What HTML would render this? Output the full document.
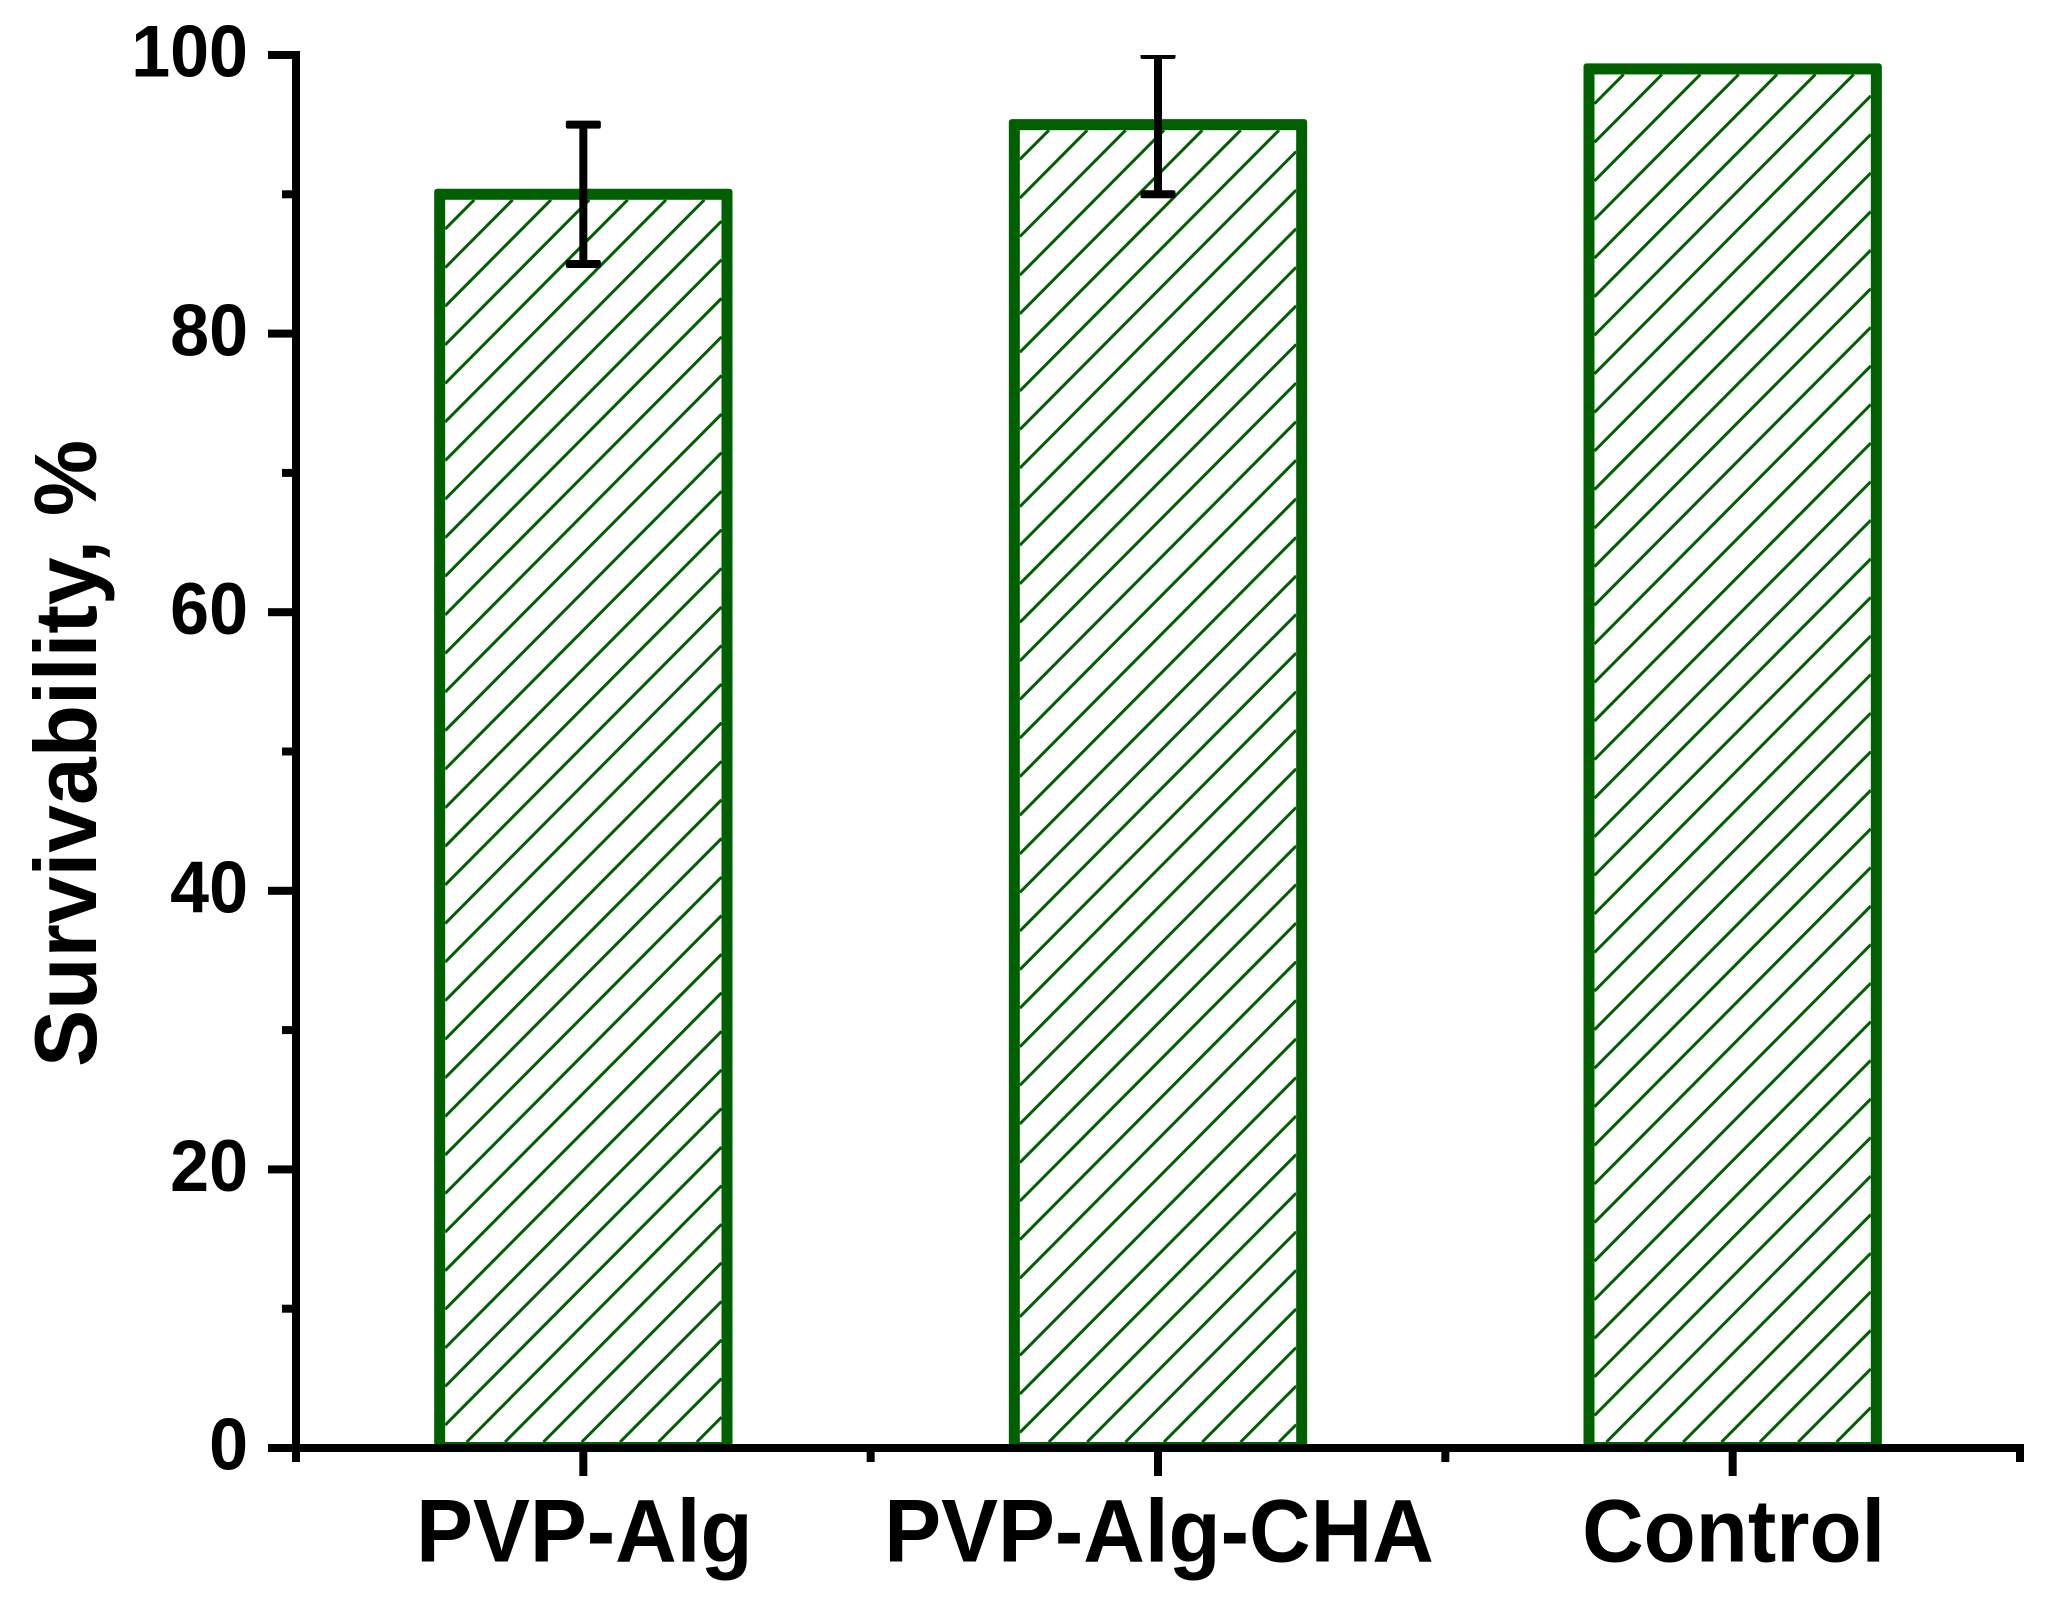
<!DOCTYPE html>
<html lang="en">
<head>
<meta charset="utf-8">
<title>Survivability bar chart</title>
<style>
  html, body { margin: 0; padding: 0; background: #fff; }
  body { width: 2060px; height: 1619px; overflow: hidden; }
  svg { display: block; }
  text { font-family: "Liberation Sans", Arial, sans-serif; font-weight: bold; fill: #000; }
</style>
</head>
<body>
<svg id="chart" xmlns="http://www.w3.org/2000/svg" width="2060" height="1619" viewBox="0 0 2060 1619">
  <defs id="chart-defs"></defs>
  <rect x="0" y="0" width="2060" height="1619" fill="#ffffff"></rect>
  <g id="bars"></g>
  <g id="error-bars"></g>
  <g id="axes"></g>
  <text transform="translate(96 1067) rotate(-90) scale(1 1.03)" font-size="85.7">Survivability, %</text>
</svg>
<script>
const categories = ['PVP-Alg', 'PVP-Alg-CHA', 'Control'];
const survivability = [90, 95, 99];
const errors = [5, 5, 0];
const yMajorTicks = [0, 20, 40, 60, 80, 100];
const yMinorTicks = [10, 30, 50, 70, 90];
const xMinorTicks = [0.5, 1.5, 2.5, 3.5];

const NS = 'http://www.w3.org/2000/svg';
const GREEN = '#005f00';
const plot = { left: 296, right: 2020, top: 55, bottom: 1448 };
const yDomain = [0, 100];
const xDomain = [0.5, 3.5];

function xScale(v) {
  return plot.left + (v - xDomain[0]) / (xDomain[1] - xDomain[0]) * (plot.right - plot.left);
}
function yScale(v) {
  return plot.bottom - (v - yDomain[0]) / (yDomain[1] - yDomain[0]) * (plot.bottom - plot.top);
}
function make(tag, attrs, parent) {
  const el = document.createElementNS(NS, tag);
  for (const k in attrs) el.setAttribute(k, attrs[k]);
  parent.appendChild(el);
  return el;
}

const defs = document.getElementById('chart-defs');
const barsG = document.getElementById('bars');
const errG = document.getElementById('error-bars');
const axesG = document.getElementById('axes');

const BAR_UNITS = 0.5;
const STROKE = 11;
const HATCH_GAP = 38.58;
const HATCH_SLOPE = 1.006;
const HATCH_PHASE = 29.3;

/* clip for marks that reach past the plot top */
const plotClip = make('clipPath', { id: 'plot-clip' }, defs);
make('rect', { x: 0, y: plot.top, width: 2060, height: plot.bottom - plot.top + 10 }, plotClip);

categories.forEach(function (cat, i) {
  const pos = i + 1;
  const cx = xScale(pos);
  const half = (xScale(pos + BAR_UNITS / 2) - xScale(pos - BAR_UNITS / 2)) / 2;
  const top = yScale(survivability[i]);
  const base = yScale(0);

  const outer = make('rect', {
    x: cx - half - STROKE / 2,
    y: top - STROKE / 2,
    width: 2 * half + STROKE,
    height: base - top + STROKE / 2,
    rx: 3,
    fill: GREEN
  }, barsG);
  
  

  const ix = cx - half + STROKE / 2;
  const iy = top + STROKE / 2;
  const iw = 2 * half - STROKE;
  const ih = base - 6 - iy;
  const ib = iy + ih;

  const inner = make('rect', { x: ix, y: iy, width: iw, height: ih, fill: '#ffffff' }, barsG);
  
  

  const clip = make('clipPath', { id: 'bar-clip-' + i }, defs);
  make('rect', { x: ix, y: iy, width: iw, height: ih }, clip);

  const hatch = make('g', { 'clip-path': 'url(#bar-clip-' + i + ')', stroke: GREEN, 'stroke-width': 3 }, barsG);
  
  

  for (let y0 = iy + HATCH_PHASE; y0 < ib + iw * HATCH_SLOPE; y0 += HATCH_GAP) {
    /* trim each hatch line to the bar interior so nothing extends off the frame */
    let x1 = ix, y1 = y0, x2 = ix + iw, y2 = y0 - iw * HATCH_SLOPE;
    if (y1 > ib) { x1 = ix + (y1 - ib) / HATCH_SLOPE; y1 = ib; }
    if (y2 < iy) { x2 = ix + (y0 - iy) / HATCH_SLOPE; y2 = iy; }
    make('line', { x1: x1, y1: y1, x2: x2, y2: y2 }, hatch);
  }

  if (errors[i] > 0) {
    const g = make('g', { 'clip-path': 'url(#plot-clip)', fill: '#000' }, errG);
    
    
    const yHi = yScale(survivability[i] + errors[i]);
    const yLo = yScale(survivability[i] - errors[i]);
    make('rect', { x: cx - 4, y: yHi, width: 8, height: yLo - yHi }, g);
    make('rect', { x: cx - 17.5, y: yHi - 4, width: 35, height: 8, rx: 2 }, g);
    make('rect', { x: cx - 17.5, y: yLo - 4, width: 35, height: 8, rx: 2 }, g);
  }
});

/* y axis */
const yLine = make('rect', { x: plot.left - 4, y: plot.top - 4, width: 8, height: plot.bottom - plot.top + 8, fill: '#000' }, axesG);



yMajorTicks.forEach(function (v) {
  const tick = make('rect', { x: 268, y: yScale(v) - 4, width: plot.left - 268, height: 8, fill: '#000' }, axesG);
  
  
  const label = make('text', { transform: 'translate(248 ' + (yScale(v) + 21.7) + ') scale(1 1.05)', 'font-size': 70, 'text-anchor': 'end' }, axesG);
  
  
  label.textContent = String(v);
});
yMinorTicks.forEach(function (v) {
  const tick = make('rect', { x: 282, y: yScale(v) - 4, width: plot.left - 282, height: 8, fill: '#000' }, axesG);
  
  
});

/* x axis */
const xLine = make('rect', { x: 268, y: plot.bottom - 4, width: plot.right + 4 - 268, height: 8, fill: '#000' }, axesG);



xMinorTicks.forEach(function (v) {
  const tick = make('rect', { x: xScale(v) - 4, y: plot.bottom, width: 8, height: 14, fill: '#000' }, axesG);
  
  
});
categories.forEach(function (cat, i) {
  const cx = xScale(i + 1);
  const tick = make('rect', { x: cx - 4, y: plot.bottom, width: 8, height: 28, fill: '#000' }, axesG);
  
  
  const label = make('text', { transform: 'translate(' + (cx + 1) + ' 1561.7) scale(1 1.043)', 'font-size': 85.3, 'text-anchor': 'middle' }, axesG);
  
  
  label.textContent = cat;
});
</script>
</body>
</html>
